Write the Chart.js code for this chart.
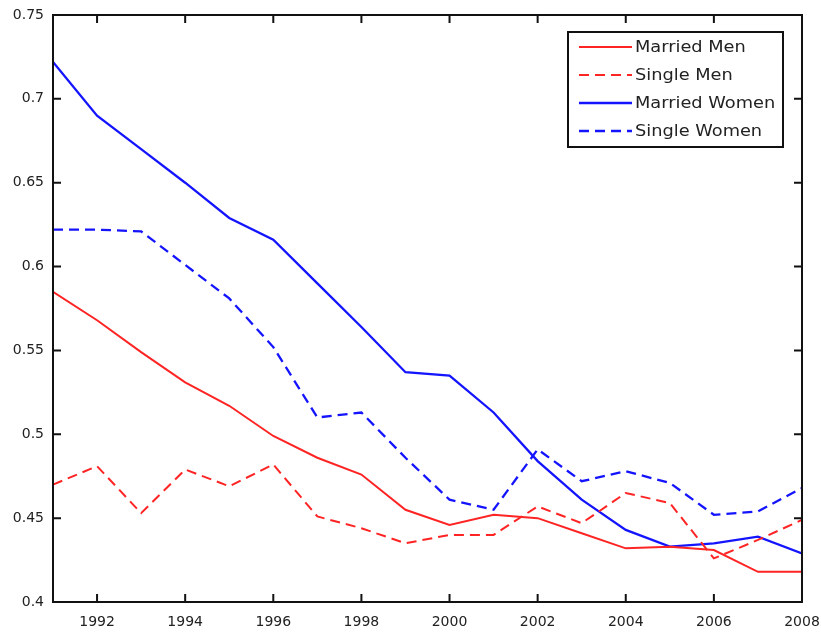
<!DOCTYPE html>
<html>
<head>
<meta charset="utf-8">
<script src="https://cdn.jsdelivr.net/npm/chart.js@4/dist/chart.umd.min.js"></script>
<style>
  html, body { margin: 0; padding: 0; background: #ffffff; }
  #wrap { width: 821px; height: 632px; }
</style>
</head>
<body>
<div id="wrap"><canvas id="c" width="821" height="632"></canvas></div>
<script>
// Survey years
const years = [1991, 1992, 1993, 1994, 1995, 1996, 1997, 1998, 1999,
               2000, 2001, 2002, 2003, 2004, 2005, 2006, 2007, 2008];

// Shares by marital status and sex
const marriedMen   = [0.585, 0.568, 0.549, 0.531, 0.517, 0.499, 0.486, 0.476, 0.455,
                      0.446, 0.452, 0.450, 0.441, 0.432, 0.433, 0.431, 0.418, 0.418];
const singleMen    = [0.470, 0.481, 0.453, 0.479, 0.469, 0.482, 0.451, 0.444, 0.435,
                      0.440, 0.440, 0.457, 0.447, 0.465, 0.459, 0.426, 0.437, 0.449];
const marriedWomen = [0.722, 0.690, 0.670, 0.650, 0.629, 0.616, 0.590, 0.564, 0.537,
                      0.535, 0.513, 0.484, 0.461, 0.443, 0.433, 0.435, 0.439, 0.429];
const singleWomen  = [0.622, 0.622, 0.621, 0.601, 0.581, 0.552, 0.510, 0.513, 0.486,
                      0.461, 0.455, 0.491, 0.472, 0.478, 0.471, 0.452, 0.454, 0.468];

// Axis ticks
const xTicks = [1992, 1994, 1996, 1998, 2000, 2002, 2004, 2006, 2008];
const yTicks = [0.4, 0.45, 0.5, 0.55, 0.6, 0.65, 0.7, 0.75];

const seriesNames = ['Married Men', 'Single Men', 'Married Women', 'Single Women'];

const toPoints = vals => years.map((yr, i) => ({ x: yr, y: vals[i] }));

const RED = '#ff2424';
const BLUE = '#1414ff';
const DASH = [10, 6];

// Boxed frame with inward tick marks on all four sides
const framePlugin = {
  id: 'frame',
  afterDatasetsDraw(chart) {
    const { ctx, chartArea: { left, right, top, bottom }, scales: { x, y } } = chart;
    const len = 8;
    ctx.save();
    ctx.strokeStyle = '#111';
    ctx.lineWidth = 2;
    ctx.strokeRect(left, top, right - left, bottom - top);
    ctx.beginPath();
    xTicks.forEach(v => {
      const px = x.getPixelForValue(v);
      ctx.moveTo(px, bottom); ctx.lineTo(px, bottom - len);
      ctx.moveTo(px, top);    ctx.lineTo(px, top + len);
    });
    yTicks.forEach(v => {
      const py = y.getPixelForValue(v);
      ctx.moveTo(left, py);  ctx.lineTo(left + len, py);
      ctx.moveTo(right, py); ctx.lineTo(right - len, py);
    });
    ctx.stroke();
    ctx.restore();
  }
};

// Legend box in the upper right corner of the plot
const legendPlugin = {
  id: 'boxLegend',
  afterDraw(chart) {
    const { ctx } = chart;
    const bx = 568, by = 32, bw = 215, bh = 115;
    ctx.save();
    ctx.fillStyle = '#ffffff';
    ctx.fillRect(bx, by, bw, bh);
    ctx.strokeStyle = '#111';
    ctx.lineWidth = 2;
    ctx.strokeRect(bx, by, bw, bh);
    ctx.font = '16px "DejaVu Sans", sans-serif';
    ctx.textBaseline = 'middle';
    chart.data.datasets.forEach((ds, i) => {
      const ry = by + 15 + i * 28;
      ctx.beginPath();
      ctx.strokeStyle = ds.borderColor;
      ctx.lineWidth = ds.borderWidth;
      ctx.setLineDash(ds.borderDash || []);
      ctx.moveTo(bx + 11, ry);
      ctx.lineTo(bx + 64, ry);
      ctx.stroke();
      ctx.setLineDash([]);
      ctx.fillStyle = '#222';
      ctx.save();
      ctx.translate(bx + 67, ry + 1);
      ctx.scale(1.11, 1);
      ctx.fillText(ds.label, 0, 0);
      ctx.restore();
    });
    ctx.restore();
  }
};

new Chart(document.getElementById('c'), {
  type: 'line',
  data: {
    datasets: [
      { label: seriesNames[0], data: toPoints(marriedMen),   borderColor: RED,  borderWidth: 2 },
      { label: seriesNames[1], data: toPoints(singleMen),    borderColor: RED,  borderWidth: 2, borderDash: DASH },
      { label: seriesNames[2], data: toPoints(marriedWomen), borderColor: BLUE, borderWidth: 2.3 },
      { label: seriesNames[3], data: toPoints(singleWomen),  borderColor: BLUE, borderWidth: 2.3, borderDash: DASH }
    ]
  },
  options: {
    responsive: false,
    animation: false,
    layout: { padding: { top: 15, right: 19, left: 0, bottom: 0 } },
    elements: {
      point: { radius: 0 },
      line: { tension: 0, fill: false }
    },
    plugins: {
      legend: { display: false },
      tooltip: { enabled: false }
    },
    scales: {
      x: {
        type: 'linear',
        min: 1991,
        max: 2008,
        afterFit(scale) {
          scale.height = 30;
          scale.paddingLeft = 0;
          scale.paddingRight = 0;
        },
        afterBuildTicks(scale) { scale.ticks = xTicks.map(v => ({ value: v })); },
        grid: { display: false, drawTicks: false },
        border: { display: false },
        ticks: {
          padding: 12,
          maxRotation: 0,
          autoSkip: false,
          color: '#222',
          font: { family: '"DejaVu Sans", sans-serif', size: 14 },
          callback: v => String(v)
        }
      },
      y: {
        min: 0.4,
        max: 0.75,
        afterFit(scale) {
          scale.width = 53;
          scale.paddingTop = 0;
          scale.paddingBottom = 0;
        },
        afterBuildTicks(scale) { scale.ticks = yTicks.map(v => ({ value: v })); },
        grid: { display: false, drawTicks: false },
        border: { display: false },
        ticks: {
          padding: 9,
          autoSkip: false,
          color: '#222',
          font: { family: '"DejaVu Sans", sans-serif', size: 14 },
          callback: v => String(parseFloat(Number(v).toFixed(2)))
        }
      }
    }
  },
  plugins: [framePlugin, legendPlugin]
});
</script>
</body>
</html>
